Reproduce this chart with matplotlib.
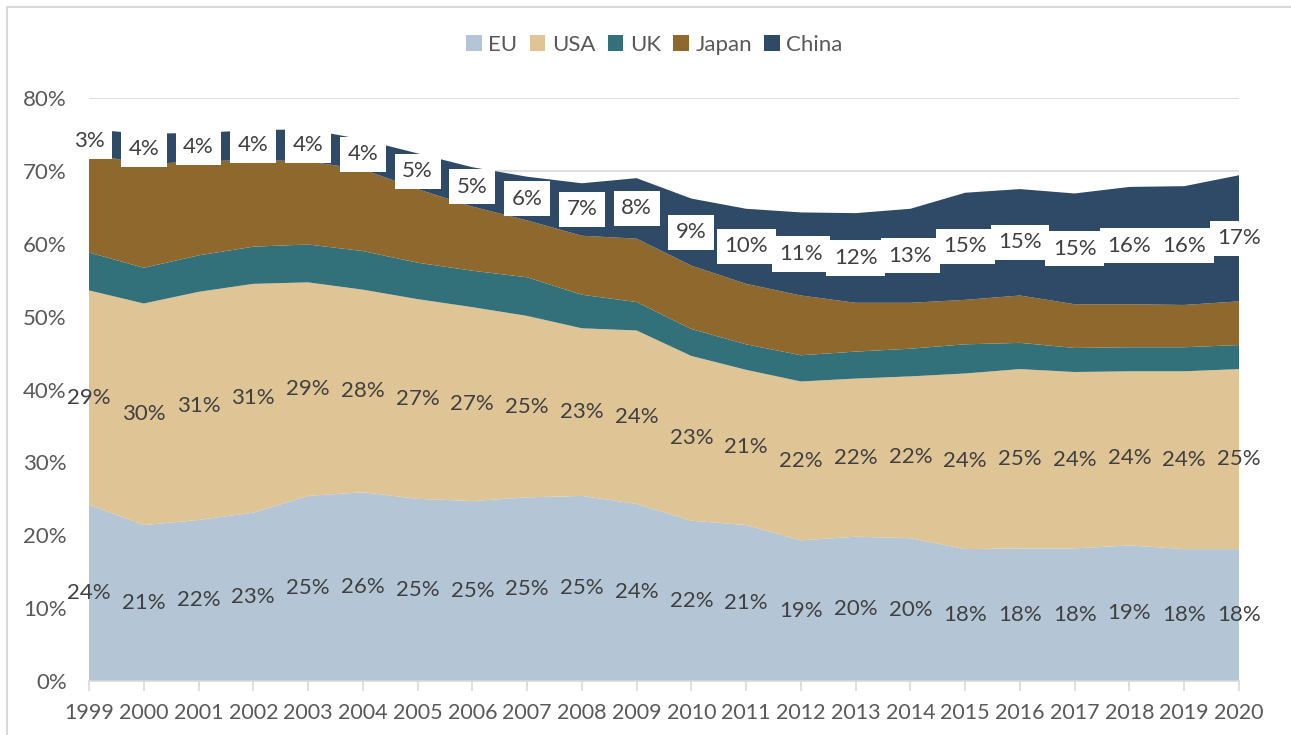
import numpy as np
import matplotlib
matplotlib.use("Agg")
import matplotlib.pyplot as plt
from matplotlib.patches import Rectangle

# share of world total, percent
years = list(range(1999, 2021))
eu = [24.2, 21.4, 22.1, 23.1, 25.4, 25.9, 25.0, 24.7, 25.2, 25.4, 24.3,
      22.0, 21.4, 19.3, 19.8, 19.6, 18.1, 18.2, 18.2, 18.6, 18.1, 18.1]
usa = [29.4, 30.4, 31.3, 31.4, 29.3, 27.8, 27.4, 26.6, 24.9, 23.0, 23.8,
       22.6, 21.3, 21.8, 21.7, 22.2, 24.1, 24.6, 24.2, 23.9, 24.4, 24.7]
uk = [5.2, 4.9, 5.0, 5.1, 5.2, 5.3, 5.0, 5.0, 5.3, 4.6, 3.9,
      3.7, 3.5, 3.6, 3.7, 3.8, 4.0, 3.6, 3.3, 3.3, 3.3, 3.3]
japan = [13.6, 14.2, 12.9, 11.9, 11.4, 11.2, 10.1, 8.8, 7.8, 8.1, 8.7,
         8.7, 8.3, 8.2, 6.7, 6.3, 6.1, 6.5, 6.0, 5.9, 5.8, 6.0]
china = [3.3, 4.2, 3.9, 4.1, 4.4, 4.1, 4.9, 5.4, 6.0, 7.2, 8.3,
         9.2, 10.3, 11.4, 12.3, 12.9, 14.7, 14.6, 15.2, 16.1, 16.3, 17.3]

names = ["EU", "USA", "UK", "Japan", "China"]
colors = ["#B4C6D5", "#DFC496", "#32717A", "#8E682D", "#2E4A66"]
labelled = [True, True, False, False, True]

plt.rcParams["font.family"] = ["Lato", "DejaVu Sans"]

fig = plt.figure(figsize=(12.91, 7.35), dpi=100)
ax = fig.add_axes([89 / 1291, 1 - 681 / 735, 1150 / 1291, 583 / 735])

x = np.array(years)
data = np.array([eu, usa, uk, japan, china]) / 100.0
ax.stackplot(x, data, colors=colors, labels=names, linewidth=0, zorder=2)

# data labels in the middle of each band
base = np.zeros(len(years))
for k in range(len(names)):
    vals = data[k]
    if labelled[k]:
        for i, yr in enumerate(years):
            txt = "%d%%" % int(vals[i] * 100 + 0.5)
            kw = {}
            if names[k] == "China":
                kw["bbox"] = dict(boxstyle="square,pad=0.34", fc="white", ec="none")
            ax.text(yr, base[i] + vals[i] / 2, txt, ha="center", va="center",
                    fontsize=16, color="#404040", zorder=5, **kw)
    base = base + vals

ax.set_xlim(1999, 2020)
ax.set_ylim(0, 0.8)
ax.set_yticks(np.arange(0, 0.81, 0.1))
ax.set_yticklabels(["%d%%" % v for v in range(0, 81, 10)])
ax.set_xticks(years)
ax.set_xticklabels([str(y) for y in years])
ax.yaxis.grid(True, color="#D9D9D9", lw=1.2, zorder=0)
ax.set_axisbelow(True)
for s in ["left", "right", "top"]:
    ax.spines[s].set_visible(False)
ax.spines["bottom"].set_color("#D9D9D9")
ax.spines["bottom"].set_linewidth(1.2)
ax.spines["bottom"].set_zorder(3)
ax.tick_params(axis="x", length=7, width=1.2, color="#D9D9D9", labelsize=15.5,
               labelcolor="#595959", pad=9)
ax.tick_params(axis="y", length=0, labelsize=16, labelcolor="#595959", pad=16)

leg = fig.legend(loc="center", bbox_to_anchor=(0.507, 1 - 45 / 735), ncol=5,
                 frameon=False, fontsize=16, handlelength=0.7, handleheight=0.7,
                 handletextpad=0.3, columnspacing=0.55)
for t in leg.get_texts():
    t.set_color("#595959")

# chart border
fig.patches.append(Rectangle((7 / 1291, -0.1), 1.2, 1.1 - 7 / 735,
                             transform=fig.transFigure, fill=False,
                             ec="#D9D9D9", lw=1.5))

fig.savefig("out.png", dpi=100)
